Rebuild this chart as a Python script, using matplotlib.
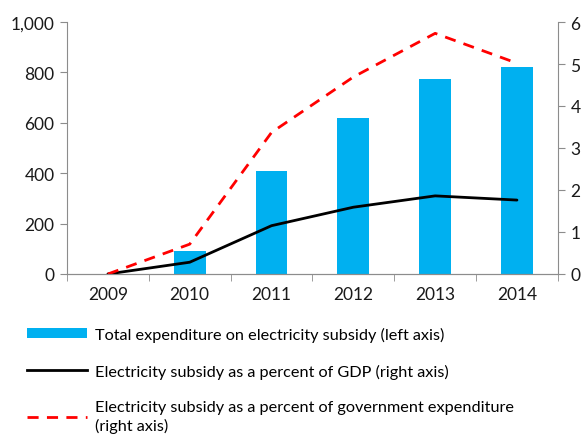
import matplotlib
matplotlib.use("Agg")
import matplotlib.pyplot as plt
import numpy as np
from matplotlib.patches import Patch
from matplotlib.lines import Line2D

plt.rcParams['font.family'] = ['Lato', 'DejaVu Sans']

years = ['2009', '2010', '2011', '2012', '2013', '2014']
expenditure = [0, 91, 409, 619, 774, 820]          # left axis
pct_gdp = [0.0, 0.28, 1.15, 1.59, 1.86, 1.76]       # right axis
pct_gov = [0.0, 0.71, 3.37, 4.69, 5.73, 5.02]       # right axis

blue = '#00b0f0'
grey = '#8c8c8c'

fig = plt.figure(figsize=(5.86, 4.39), dpi=100)
ax = fig.add_axes([0.1143, 0.3736, 0.8377, 0.574])
ax2 = ax.twinx()

x = np.arange(len(years))
ax.bar(x, expenditure, width=0.39, color=blue, zorder=2)
ax2.plot(x, pct_gdp, color='black', lw=2, solid_capstyle='round')
ax2.plot(x, pct_gov, color='red', lw=2, ls=(0, (4, 3)))

ax.set_xlim(-0.5, len(years) - 0.5)
ax.set_ylim(0, 1000)
ax2.set_ylim(0, 6)
ax.set_yticks(range(0, 1001, 200))
ax.set_yticklabels(['0', '200', '400', '600', '800', '1,000'])
ax2.set_yticks(range(0, 7))

ax.set_xticks(x)
ax.set_xticklabels(years)
ax.set_xticks(np.arange(-0.5, len(years)), minor=True)
ax.tick_params(axis='x', which='major', length=0, pad=9)
ax.tick_params(axis='x', which='minor', length=5, color=grey, direction='out')
ax.tick_params(axis='y', length=5, color=grey, pad=4)
ax2.tick_params(axis='y', length=5, color=grey, pad=4)
for a in (ax, ax2):
    a.tick_params(labelsize=12.5, labelcolor='#1a1a1a')
    a.spines['top'].set_visible(False)
    for side in ('left', 'right', 'bottom'):
        a.spines[side].set_color(grey)
ax.spines['right'].set_visible(False)
ax2.spines['left'].set_visible(False)

# legend sits under the plot, one entry per row
handles = [
    Patch(facecolor=blue, edgecolor='none'),
    Line2D([], [], color='black', lw=2),
    Line2D([], [], color='red', lw=2, ls=(0, (4, 3))),
]
labels = [
    'Total expenditure on electricity subsidy (left axis)',
    'Electricity subsidy as a percent of GDP (right axis)',
    'Electricity subsidy as a percent of government expenditure\n(right axis)',
]
leg = fig.legend(handles, labels, loc='upper left', bbox_to_anchor=(0.046, 0.254),
                 frameon=False, fontsize=11.7, handlelength=3.7, handleheight=0.6,
                 handletextpad=0.5, labelspacing=1.35, borderaxespad=0, borderpad=0)
for t in leg.get_texts():
    t.set_linespacing(1.25)

fig.savefig('out.png', dpi=100)
